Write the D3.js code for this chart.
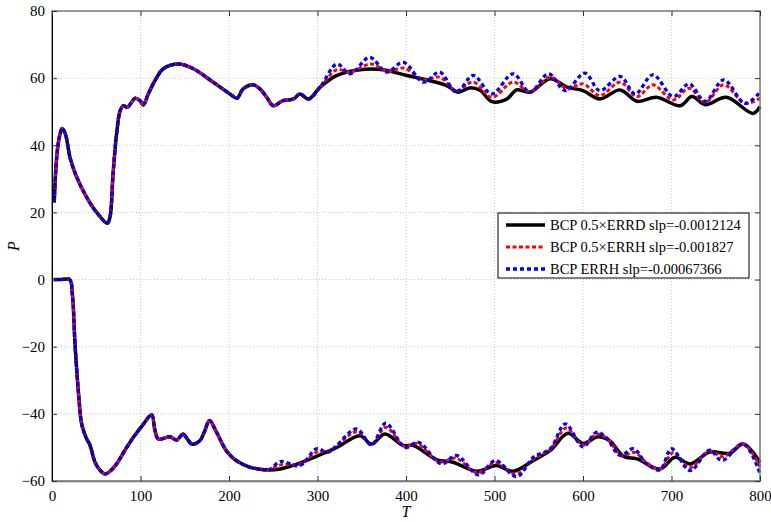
<!DOCTYPE html>
<html>
<head>
<meta charset="utf-8">
<script src="https://cdn.jsdelivr.net/npm/d3@7"></script>
<style>
  body { margin: 0; background: #fff; }
</style>
</head>
<body>
<div id="chart"></div>
<script>
// ---- data ----
// upper branch, all three runs coincide up to T~303
var tUpCommon = [2.5, 5.3, 8.3, 11.4, 15, 20.3, 27.9, 39.2, 50.5, 62.5, 65.5, 69, 73, 77, 80.6, 85, 94, 99.4, 103, 108.8, 116.4, 125.8, 143, 159.7, 182, 201, 209, 216, 227.5, 235, 242.6, 250, 261, 273, 280, 290, 303];
var pUpCommon = [23, 36.4, 42.4, 45, 43.5, 36.4, 30.5, 24.5, 20, 16.8, 18.6, 31.5, 43.4, 50.3, 51.8, 51.3, 54, 53.3, 52, 55.3, 59.3, 62.8, 64.2, 62.8, 58.8, 55.3, 54, 56.8, 58, 56.8, 54.3, 51.8, 53.3, 53.8, 55.3, 53.8, 57.3];

var tUpBlack = [322, 348, 374, 401, 423, 446, 459, 472, 484, 497, 514, 525, 540, 563, 582, 600, 619, 642, 661, 683, 710, 723, 738, 762, 792, 800];
var pUpBlack = [60.8, 62.5, 62.5, 60.8, 59.5, 57.8, 55.8, 57.1, 56.3, 53, 53.8, 56.5, 55.8, 59.8, 57.3, 56.3, 53.8, 56.5, 53.1, 54.3, 51.8, 54.5, 52.1, 54.3, 49.5, 51.5];
var tUpRed = [322, 337, 360, 380, 397, 420, 438, 457, 476, 497, 521, 540, 563, 582, 600, 619, 642, 661, 679, 702, 720, 738, 759, 783, 800];
var pUpRed = [62.5, 61.8, 64.2, 62, 63, 59.5, 60.3, 56.3, 58.8, 54.3, 58.8, 56, 60.3, 56.8, 58.3, 54.8, 58.8, 54.5, 58, 53.5, 57, 52.8, 58, 52.5, 54];
var tUpBlue = [322, 337, 359, 378, 397, 420, 438, 457, 476, 497, 521, 540, 561, 580, 602, 619, 642, 659, 679, 702, 720, 738, 759, 783, 800];
var pUpBlue = [64.2, 61.3, 66.2, 61.8, 64.7, 58.8, 61.8, 55.8, 60.8, 55.3, 61.3, 55.8, 61.3, 56.3, 61.5, 56.3, 60.5, 55.3, 61, 54.5, 58.3, 53.1, 59.5, 52.5, 55.8];

// lower branch, common up to T~245
var tLoCommon = [2, 10, 20, 23, 26, 30, 33.5, 38.4, 43, 48.6, 55, 60, 66, 73, 82, 92, 102, 112.6, 116, 120, 126, 133, 141, 148, 153, 158, 167, 172, 178, 185, 197, 206, 216, 225, 235, 245];
var pLoCommon = [0, 0, 0, -4.3, -19.2, -34, -43, -47, -49.4, -54.4, -57, -57.9, -57, -54.9, -51, -47, -43.5, -40.3, -44.5, -47.5, -47.3, -46.8, -47.8, -46, -47.5, -49, -48, -45.5, -42, -45, -51, -53.5, -55.1, -56, -56.5, -56.7];

var tLoBlack = [258, 280, 301, 322, 348, 361, 376, 397, 408, 435, 453, 480, 502, 521, 544, 563, 583, 600, 617, 630, 646, 661, 687, 704, 721, 743, 766, 781, 800];
var pLoBlack = [-56.4, -54.7, -52.4, -50, -46.5, -49, -46, -49.4, -49.4, -53.7, -54.4, -57.1, -55.4, -57.1, -53.9, -50.9, -45.8, -48.8, -46.8, -48, -52.7, -53.4, -56.4, -52.9, -54.9, -51.4, -51.7, -49, -54.5];
var tLoRed = [258, 280, 300, 312, 345, 361, 377, 398, 412, 438, 456, 481, 501, 524, 544, 563, 581, 600, 616, 628, 644, 658, 673, 687, 702, 721, 743, 758, 781, 800];
var pLoRed = [-55.2, -55, -51.3, -51.2, -45.3, -49.2, -44, -49.7, -48.8, -54.3, -53.2, -57.6, -54.5, -58, -53.4, -50.6, -44.2, -49.3, -46, -47.5, -52.5, -51.5, -54.8, -56.5, -51.5, -56, -51, -52.8, -49, -55.8];
var tLoBlue = [258, 280, 299, 312, 344, 361, 377, 399, 414, 440, 457, 482, 501, 525, 544, 563, 580, 600, 615, 626, 642, 657, 672, 687, 700, 721, 743, 757, 781, 800];
var pLoBlue = [-54.2, -55.4, -50.4, -51.4, -44.5, -49.3, -42.8, -50, -48.5, -54.9, -52.4, -58.2, -53.9, -58.7, -52.9, -50.4, -43, -49.8, -45.5, -47, -52.4, -50.4, -54.9, -56.7, -50.4, -56.9, -50.8, -53.9, -48.9, -57.8];

var xTicks = [0, 100, 200, 300, 400, 500, 600, 700, 800];
var yTicks = [-60, -40, -20, 0, 20, 40, 60, 80];
var legendNames = ['BCP 0.5\u00D7ERRD slp=-0.0012124', 'BCP 0.5\u00D7ERRH slp=-0.001827', 'BCP ERRH slp=-0.00067366'];

var serif = '"Liberation Serif", "Times New Roman", serif';

// ---- chart ----
var width = 771, height = 522;
var margin = {top: 11, right: 11, bottom: 41, left: 52};
var innerW = width - margin.left - margin.right;
var innerH = height - margin.top - margin.bottom;

var svg = d3.select('#chart').append('svg')
    .attr('width', width)
    .attr('height', height)
    .style('font-family', serif);

var g = svg.append('g')
    .attr('transform', 'translate(' + margin.left + ',' + margin.top + ')');

var x = d3.scaleLinear().domain([0, 800]).range([0, innerW]);
var y = d3.scaleLinear().domain([-60, 80]).range([innerH, 0]);

// grid
g.append('g').selectAll('line')
    .data(xTicks.slice(1, -1))
    .enter().append('line')
    .attr('x1', d => x(d)).attr('x2', d => x(d))
    .attr('y1', 0).attr('y2', innerH)
    .attr('stroke', '#c8c8c8').attr('stroke-dasharray', '1,2');
g.append('g').selectAll('line')
    .data(yTicks.slice(1, -1))
    .enter().append('line')
    .attr('x1', 0).attr('x2', innerW)
    .attr('y1', d => y(d)).attr('y2', d => y(d))
    .attr('stroke', '#c8c8c8').attr('stroke-dasharray', '1,2');

// join the common part with each tail
function pts(tA, pA, tB, pB) {
    var out = tA.map((t, i) => [t, pA[i]]);
    return out.concat(tB.map((t, i) => [t, pB[i]]));
}

var series = [
    {color: '#000', width: 3.5, dash: null, up: pts(tUpCommon, pUpCommon, tUpBlack, pUpBlack), lo: pts(tLoCommon, pLoCommon, tLoBlack, pLoBlack)},
    {color: '#f00', width: 3, dash: '4,2.5', up: pts(tUpCommon, pUpCommon, tUpRed, pUpRed), lo: pts(tLoCommon, pLoCommon, tLoRed, pLoRed)},
    {color: '#00f', width: 3.3, dash: '4,3', up: pts(tUpCommon, pUpCommon, tUpBlue, pUpBlue), lo: pts(tLoCommon, pLoCommon, tLoBlue, pLoBlue)}
];

var line = d3.line()
    .x(d => x(d[0]))
    .y(d => y(d[1]))
    .curve(d3.curveCatmullRom.alpha(0.5));

series.forEach(function(s) {
    ['up', 'lo'].forEach(function(k) {
        g.append('path')
            .datum(s[k])
            .attr('fill', 'none')
            .attr('stroke', s.color)
            .attr('stroke-width', s.width)
            .attr('stroke-dasharray', s.dash)
            .attr('stroke-linejoin', 'round')
            .attr('d', line);
    });
});

// frame
g.append('rect')
    .attr('width', innerW).attr('height', innerH)
    .attr('fill', 'none').attr('stroke', '#777').attr('stroke-width', 1.5);

// axes
var xaxis = d3.axisBottom(x).tickValues(xTicks).tickSizeInner(-5).tickSizeOuter(0).tickPadding(9);
var yaxis = d3.axisLeft(y).tickValues(yTicks).tickSizeInner(-5).tickSizeOuter(0).tickPadding(7);

var gx = g.append('g')
    .attr('transform', 'translate(0,' + innerH + ')')
    .call(xaxis)
    .attr('font-family', serif);
gx.select('.domain').attr('stroke', '#777').attr('stroke-width', 1.5);
gx.selectAll('text').style('font-size', '15px').style('font-family', serif).attr('fill', '#000');
gx.selectAll('line').attr('stroke', '#333');

var gy = g.append('g').call(yaxis).attr('font-family', serif);
gy.select('.domain').attr('stroke', '#000');
gy.selectAll('text').style('font-size', '15px').style('font-family', serif).attr('fill', '#000');
gy.selectAll('line').attr('stroke', '#333');

// mirrored ticks on top and right
g.append('g').call(d3.axisTop(x).tickValues(xTicks).tickSizeInner(-5).tickSizeOuter(0).tickFormat(''))
    .call(a => a.select('.domain').remove())
    .selectAll('line').attr('stroke', '#333');
g.append('g').attr('transform', 'translate(' + innerW + ',0)')
    .call(d3.axisRight(y).tickValues(yTicks).tickSizeInner(-5).tickSizeOuter(0).tickFormat(''))
    .call(a => a.select('.domain').remove())
    .selectAll('line').attr('stroke', '#333');

// axis titles
svg.append('text')
    .attr('x', margin.left + innerW / 2)
    .attr('y', 517)
    .attr('text-anchor', 'middle')
    .style('font-size', '16px')
    .style('font-style', 'italic')
    .text('T');

svg.append('text')
    .attr('transform', 'translate(19,' + (margin.top + innerH / 2) + ') rotate(-90)')
    .attr('text-anchor', 'middle')
    .style('font-size', '16px')
    .style('font-style', 'italic')
    .text('P');

// legend
var leg = svg.append('g').attr('transform', 'translate(498,213)');
leg.append('rect')
    .attr('width', 251).attr('height', 65)
    .attr('fill', '#fff').attr('stroke', '#000').attr('stroke-width', 1);

series.forEach(function(s, i) {
    var ly = 12 + i * 22;
    leg.append('line')
        .attr('x1', 8).attr('x2', 47)
        .attr('y1', ly).attr('y2', ly)
        .attr('stroke', s.color)
        .attr('stroke-width', s.width)
        .attr('stroke-dasharray', s.dash);
    leg.append('text')
        .attr('x', 52).attr('y', ly + 5)
        .style('font-size', '14.5px')
        .text(legendNames[i]);
});
</script>
</body>
</html>
